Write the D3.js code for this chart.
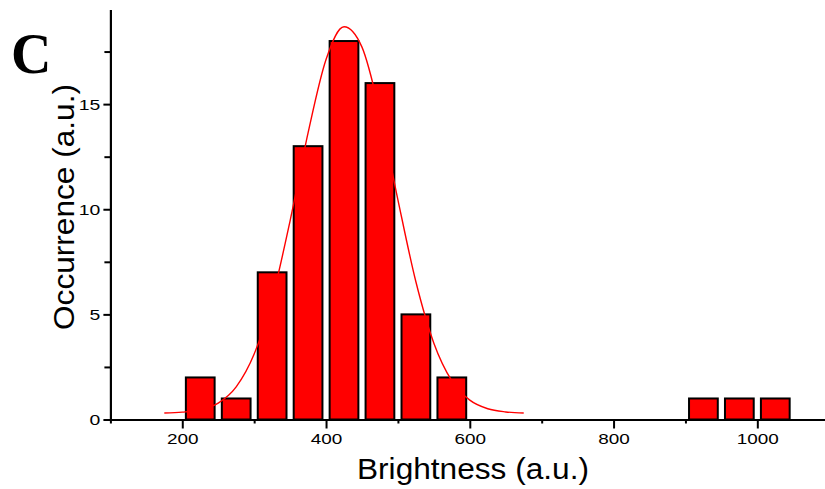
<!DOCTYPE html>
<html><head><meta charset="utf-8">
<script src="https://cdn.jsdelivr.net/npm/d3@7"></script>
<style>html,body{margin:0;padding:0;background:#fff;}svg{display:block;}</style>
</head><body>
<svg id="chart" width="825" height="489"></svg>
<script>
// ---- data ----
const binStarts = [200, 250, 300, 350, 400, 450, 500, 550, 900, 950, 1000];
const counts    = [2, 1, 7, 13, 18, 16, 5, 2, 1, 1, 1];
const binWidth = 50;
const fitX = [175, 200, 225, 250, 275, 300, 325, 350, 375, 400, 425, 450, 475, 500, 525, 550, 575, 600, 625, 650, 675];
const fitY = [0.31, 0.35, 0.46, 0.78, 1.55, 3.11, 5.74, 9.45, 13.63, 17.12, 18.68, 17.71, 14.58, 10.45, 6.55, 3.63, 1.84, 0.92, 0.51, 0.36, 0.31];
const xMajorTicks = [200, 400, 600, 800, 1000];
const xMinorTicks = [100, 300, 500, 700, 900, 1100];
const yMajorTicks = [0, 5, 10, 15];
const yMinorTicks = [2.5, 7.5, 12.5, 17.5];
const xTitle = "Brightness (a.u.)";
const yTitle = "Occurrence (a.u.)";
const panelLabel = "C";

const svg = d3.select("#chart");
const x = d3.scaleLinear().domain([100, 1100]).range([110.4, 829.2]);
const y = d3.scaleLinear().domain([0, 19.5]).range([419.5, 9.5]);

const stretch = function(f){ return function(){ return this.getComputedTextLength() * f; }; };

// bars
const bars = binStarts.map((b, i) => ({c: b + binWidth / 2, v: counts[i]}));
svg.append("g").selectAll("rect").data(bars).join("rect")
  .attr("x", d => x(d.c - 20))
  .attr("width", d => x(d.c + 20) - x(d.c - 20))
  .attr("y", d => y(d.v))
  .attr("height", d => y(0) - y(d.v))
  .attr("fill", "#ff0000")
  .attr("stroke", "#000")
  .attr("stroke-width", 2);

// fit curve
const line = d3.line().x(d => x(d[0])).y(d => y(d[1])).curve(d3.curveMonotoneX);
svg.append("path")
  .datum(fitX.map((v, i) => [v, fitY[i]]))
  .attr("d", line)
  .attr("fill", "none")
  .attr("stroke", "#ff0000")
  .attr("stroke-width", 1.4);

// x axis
const gxMinor = svg.append("g").attr("transform", `translate(0,${y(0)})`)
  .call(d3.axisBottom(x).tickValues(xMinorTicks).tickSize(4).tickSizeOuter(0).tickFormat(""));
const gx = svg.append("g").attr("transform", `translate(0,${y(0)})`)
  .call(d3.axisBottom(x).tickValues(xMajorTicks).tickSize(9).tickSizeOuter(0).tickPadding(4).tickFormat(d3.format("d")));
// y axis
const gyMinor = svg.append("g").attr("transform", `translate(${x(100)},0)`)
  .call(d3.axisLeft(y).tickValues(yMinorTicks).tickSize(6).tickSizeOuter(0).tickFormat(""));
const gy = svg.append("g").attr("transform", `translate(${x(100)},0)`)
  .call(d3.axisLeft(y).tickValues(yMajorTicks).tickSize(7).tickSizeOuter(0).tickPadding(3).tickFormat(d3.format("d")));

[gxMinor, gx, gyMinor, gy].forEach(g => {
  g.selectAll(".domain").attr("stroke", "#000").attr("stroke-width", 2);
  g.selectAll(".tick line").attr("stroke", "#000").attr("stroke-width", 2);
});
gx.selectAll("text").attr("font-family", "Liberation Sans, Arial, sans-serif").attr("font-size", 15.5).attr("fill", "#000")
  .attr("textLength", stretch(1.22)).attr("lengthAdjust", "spacingAndGlyphs");
gy.selectAll("text").attr("font-family", "Liberation Sans, Arial, sans-serif").attr("font-size", 15.5).attr("fill", "#000")
  .attr("textLength", stretch(1.25)).attr("lengthAdjust", "spacingAndGlyphs");

// titles
svg.append("text")
  .attr("x", 473).attr("y", 479)
  .attr("text-anchor", "middle")
  .attr("font-family", "Liberation Sans, Arial, sans-serif")
  .attr("font-size", 29).attr("fill", "#000")
  .text(xTitle)
  .attr("textLength", 232).attr("lengthAdjust", "spacingAndGlyphs");

svg.append("text")
  .attr("transform", "translate(74,207) rotate(-90)")
  .attr("text-anchor", "middle")
  .attr("font-family", "Liberation Sans, Arial, sans-serif")
  .attr("font-size", 29).attr("fill", "#000")
  .text(yTitle)
  .attr("textLength", 246).attr("lengthAdjust", "spacingAndGlyphs");

svg.append("text")
  .attr("x", 11).attr("y", 73)
  .attr("font-family", "Liberation Serif, Times New Roman, serif")
  .attr("font-weight", "bold")
  .attr("font-size", 56).attr("fill", "#000")
  .text(panelLabel);
</script>
</body></html>
